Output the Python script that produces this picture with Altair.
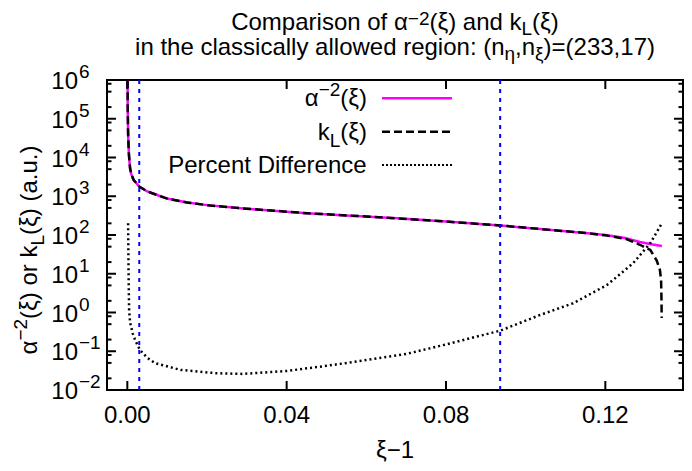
import altair as alt
import pandas as pd

# ---------------- data ----------------
xi_alpha = [0.00005, 0.0001, 0.0002, 0.0004, 0.0007, 0.001, 0.0016, 0.003, 0.005,
            0.0075, 0.010, 0.015, 0.020, 0.0284, 0.040, 0.0451, 0.055, 0.0677,
            0.080, 0.0936, 0.1036, 0.1162, 0.120, 0.125, 0.1268, 0.1287, 0.1315, 0.1342]
alpha_vals = [2e6, 2e5, 4e4, 1.2e4, 5200, 3700, 2630, 1770, 1330,
              1075, 870, 690, 590, 490, 400, 365, 320, 270,
              222, 176, 143, 110, 100, 84, 74, 66, 58, 52]

xi_kl = [0.00005, 0.0001, 0.0002, 0.0004, 0.0007, 0.001, 0.0016, 0.003, 0.005,
         0.0075, 0.010, 0.015, 0.020, 0.0284, 0.040, 0.0451, 0.055, 0.0677,
         0.080, 0.0936, 0.1036, 0.1162, 0.120, 0.125, 0.1268, 0.1287, 0.1313,
         0.1329, 0.1337, 0.1340, 0.1341, 0.13415]
kl_vals = [2e6, 2e5, 4e4, 1.2e4, 5200, 3700, 2630, 1770, 1330,
           1075, 870, 690, 590, 490, 400, 365, 320, 270,
           222, 176, 143, 110, 98, 80, 68, 56, 41,
           22, 12.6, 6.9, 2.1, 0.72]

xi_pct = [0.0002, 0.00025, 0.0003, 0.00035, 0.00045, 0.0007, 0.00135, 0.002, 0.0032,
          0.005, 0.007, 0.0134, 0.0225, 0.029, 0.040, 0.050, 0.0594, 0.070, 0.080,
          0.0936, 0.1036, 0.1119, 0.1204, 0.127, 0.1313, 0.1342]
pct_vals = [200, 60, 15, 5, 1.15, 0.55, 0.29, 0.19, 0.107,
            0.068, 0.049, 0.033, 0.027, 0.026, 0.031, 0.042, 0.058, 0.085, 0.15,
            0.34, 0.86, 1.73, 5.1, 18.8, 62, 200]

vline_positions = [0.003, 0.0936]

x_tick_values = [0.0, 0.04, 0.08, 0.12]
x_tick_labels = ["0.00", "0.04", "0.08", "0.12"]
y_exponents = [-2, -1, 0, 1, 2, 3, 4, 5, 6]
y_exp_labels = ["\u22122", "\u22121", "0", "1", "2", "3", "4", "5", "6"]
minor_factors = [2, 5, 8]

# ---------------- layout / style ----------------
W, H = 576, 310
FONT = "Liberation Sans"
FS, SS = 24, 19
SUP_RISE, SUB_DROP = 10, 7
MAGENTA, BLUE = "#ff00ff", "#0000ff"

xscale = alt.Scale(domain=[-0.0051, 0.1395], nice=False, zero=False)
yscale = alt.Scale(type="log", domain=[0.01, 1e6], nice=False)

WID = {" ": 278, "(": 333, ")": 333, ",": 278, ".": 278, ":": 278, "=": 584,
       "\u2212": 584, "C": 722, "D": 722, "L": 556, "P": 667,
       "a": 556, "c": 500, "d": 556, "e": 556, "f": 278, "g": 556, "h": 556,
       "i": 222, "k": 500, "l": 222, "m": 833, "n": 556, "o": 556, "p": 556,
       "r": 333, "s": 500, "t": 278, "u": 556, "w": 722, "y": 500,
       "\u03b1": 578, "\u03be": 447, "\u03b7": 556}
for d in "0123456789":
    WID[d] = 556


def tw(s, size):
    return sum(WID.get(ch, 556) for ch in s) * size / 1000.0


dummy = pd.DataFrame({"a": [0]})


def rich(pieces, ax, ay, align="center", vertical=False, rise=SUP_RISE, drop=SUB_DROP):
    sizes = [SS if k in ("sup", "sub") else FS for _, k in pieces]
    widths = [tw(t, s) for (t, _), s in zip(pieces, sizes)]
    total = sum(widths)
    pos = {"left": 0.0, "center": -total / 2.0, "right": -total}[align]
    out = []
    for (t, k), s, w in zip(pieces, sizes, widths):
        off = -rise if k == "sup" else (drop if k == "sub" else 0)
        if vertical:
            m = alt.Chart(dummy).mark_text(
                text=t, fontSize=s, font=FONT, align="left", baseline="alphabetic",
                angle=270, color="black"
            ).encode(x=alt.value(ax + off), y=alt.value(ay - pos))
        else:
            m = alt.Chart(dummy).mark_text(
                text=t, fontSize=s, font=FONT, align="left", baseline="alphabetic",
                color="black"
            ).encode(x=alt.value(ax + pos), y=alt.value(ay + off))
        out.append(m)
        pos += w
    return out


# ---------------- data layers ----------------
df_alpha = pd.DataFrame({"xi": xi_alpha, "v": alpha_vals})
df_kl = pd.DataFrame({"xi": xi_kl, "v": kl_vals})
df_pct = pd.DataFrame({"xi": xi_pct, "v": pct_vals})

X = alt.X("xi:Q", scale=xscale, axis=None)
Y = alt.Y("v:Q", scale=yscale, axis=None)

alpha_line = alt.Chart(df_alpha).mark_line(
    color=MAGENTA, strokeWidth=2.5, clip=True).encode(x=X, y=Y)
kl_line = alt.Chart(df_kl).mark_line(
    color="black", strokeWidth=2.5, strokeDash=[8, 4], clip=True).encode(x=X, y=Y)
pct_line = alt.Chart(df_pct).mark_line(
    color="black", strokeWidth=2.5, strokeDash=[2, 3], clip=True).encode(x=X, y=Y)

vlines = alt.Chart(pd.DataFrame({"xi": vline_positions})).mark_rule(
    color=BLUE, strokeWidth=2, strokeDash=[4, 5]).encode(
    x=X, y=alt.value(0), y2=alt.value(H))

# ---------------- ticks ----------------
df_xt = pd.DataFrame({"xi": x_tick_values, "lab": x_tick_labels})
xt_bottom = alt.Chart(df_xt).mark_rule(color="black", strokeWidth=2).encode(
    x=X, y=alt.value(H), y2=alt.value(H - 9))
xt_top = alt.Chart(df_xt).mark_rule(color="black", strokeWidth=2).encode(
    x=X, y=alt.value(0), y2=alt.value(9))
xt_labels = alt.Chart(df_xt).mark_text(
    fontSize=FS, font=FONT, align="center", baseline="alphabetic", color="black").encode(
    x=X, y=alt.value(H + 33), text="lab:N")

df_ymaj = pd.DataFrame({"v": [10.0 ** e for e in y_exponents], "ex": y_exp_labels})
df_ymin = pd.DataFrame({"v": [k * 10.0 ** e for e in y_exponents[:-1] for k in minor_factors]})

ymaj_l = alt.Chart(df_ymaj).mark_rule(color="black", strokeWidth=2).encode(
    y=Y, x=alt.value(0), x2=alt.value(9))
ymaj_r = alt.Chart(df_ymaj).mark_rule(color="black", strokeWidth=2).encode(
    y=Y, x=alt.value(W), x2=alt.value(W - 9))
ymin_l = alt.Chart(df_ymin).mark_rule(color="black", strokeWidth=2).encode(
    y=Y, x=alt.value(0), x2=alt.value(4.5))
ymin_r = alt.Chart(df_ymin).mark_rule(color="black", strokeWidth=2).encode(
    y=Y, x=alt.value(W), x2=alt.value(W - 4.5))

ylab_base = alt.Chart(df_ymaj).mark_text(
    text="10", fontSize=FS, font=FONT, align="right", baseline="alphabetic",
    dy=9, color="black").encode(y=Y, x=alt.value(-29))
ylab_exp = alt.Chart(df_ymaj).mark_text(
    fontSize=SS, font=FONT, align="left", baseline="alphabetic",
    dy=-2, color="black").encode(y=Y, x=alt.value(-28), text="ex:N")

# ---------------- legend ----------------
LX_TEXT, LX1, LX2 = 260, 275, 345
ROWS = [18.3, 51.7, 85.0]
legend_layers = []
legend_layers += rich([("\u03b1", "n"), ("\u22122", "sup"), ("(\u03be)", "n")],
                      LX_TEXT, ROWS[0] + 8, align="right")
legend_layers += rich([("k", "n"), ("L", "sub"), ("(\u03be)", "n")],
                      LX_TEXT, ROWS[1] + 8, align="right")
legend_layers += rich([("Percent Difference", "n")], LX_TEXT, ROWS[2] + 8, align="right")
legend_layers.append(alt.Chart(dummy).mark_rule(color=MAGENTA, strokeWidth=2.5).encode(
    x=alt.value(LX1), x2=alt.value(LX2), y=alt.value(ROWS[0])))
legend_layers.append(alt.Chart(dummy).mark_rule(
    color="black", strokeWidth=2.5, strokeDash=[8, 4]).encode(
    x=alt.value(LX1), x2=alt.value(LX2), y=alt.value(ROWS[1])))
legend_layers.append(alt.Chart(dummy).mark_rule(
    color="black", strokeWidth=2, strokeDash=[2, 2]).encode(
    x=alt.value(LX1), x2=alt.value(LX2), y=alt.value(ROWS[2])))

# ---------------- titles ----------------
title_layers = []
title_layers += rich([("Comparison of \u03b1", "n"), ("\u22122", "sup"),
                      ("(\u03be) and k", "n"), ("L", "sub"), ("(\u03be)", "n")],
                     W / 2, -50, rise=5, drop=5)
title_layers += rich([("in the classically allowed region: (n", "n"), ("\u03b7", "sub"),
                      (",n", "n"), ("\u03be", "sub"), (")=(233,17)", "n")],
                     W / 2, -25, drop=5)
title_layers += rich([("\u03be\u22121", "n")], W / 2, 378)
title_layers += rich([("\u03b1", "n"), ("\u22122", "sup"), ("(\u03be) or k", "n"),
                      ("L", "sub"), ("(\u03be) (a.u.)", "n")],
                     -70, 170, vertical=True)

chart = alt.layer(
    alpha_line, kl_line, pct_line, vlines,
    xt_bottom, xt_top, xt_labels, ymaj_l, ymaj_r, ymin_l, ymin_r, ylab_base, ylab_exp,
    *legend_layers, *title_layers
).properties(
    width=W, height=H,
    autosize=alt.AutoSizeParams(type="none"),
    padding={"left": 99, "top": 72, "right": 1, "bottom": 73},
).configure_view(stroke="black", strokeWidth=2)

chart.save("out.html", embed_options={"renderer": "svg", "actions": False})
